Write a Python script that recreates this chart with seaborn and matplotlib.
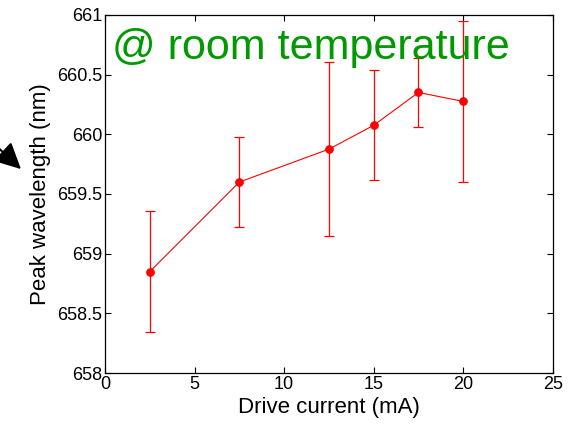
import matplotlib
matplotlib.use('Agg')
import matplotlib.pyplot as plt
import seaborn as sns
import pandas as pd
import numpy as np

# data
current_ma = [2.5, 7.5, 12.5, 15, 17.5, 20]
peak_nm = [658.85, 659.60, 659.875, 660.075, 660.35, 660.275]
err_low = [658.345, 659.225, 659.145, 659.615, 660.06, 659.60]
err_high = [659.355, 659.975, 660.605, 660.535, 660.64, 660.95]

sns.set_style("ticks")
plt.rcParams['font.family'] = ['Liberation Sans', 'DejaVu Sans']
plt.rcParams['text.color'] = 'black'
plt.rcParams['axes.labelcolor'] = 'black'
plt.rcParams['xtick.color'] = 'black'
plt.rcParams['ytick.color'] = 'black'

df = pd.DataFrame({'current': current_ma, 'peak': peak_nm})
yerr = np.array([np.array(peak_nm) - np.array(err_low),
                 np.array(err_high) - np.array(peak_nm)])

fig = plt.figure(figsize=(5.77, 4.24), dpi=100)
ax = fig.add_axes([0.182, 0.120, 0.776, 0.845])

ax.errorbar(current_ma, peak_nm, yerr=yerr, fmt='none', ecolor='red',
            elinewidth=0.9, capsize=3.5, capthick=0.9, zorder=2)
sns.lineplot(data=df, x='current', y='peak', ax=ax, color='red', marker='o',
             markersize=5.5, markeredgecolor='red', linewidth=0.8, zorder=3)

ax.set_xlim(0, 25)
ax.set_ylim(658, 661)
ax.set_xticks(np.arange(0, 26, 5))
ax.set_yticks(np.arange(658, 661.01, 0.5))
ax.set_yticklabels(['658', '658.5', '659', '659.5', '660', '660.5', '661'])
ax.tick_params(direction='in', top=True, right=True, labelsize=13, length=4,
               width=0.8, pad=2, colors='black')
for s in ax.spines.values():
    s.set_linewidth(0.9)
    s.set_color('black')

ax.set_xlabel('Drive current (mA)', fontsize=16, labelpad=3, color='black')
ax.set_ylabel('Peak wavelength (nm)', fontsize=16, labelpad=4, color='black')

ax.text(0.015, 0.962, '@ room temperature', transform=ax.transAxes,
        fontsize=31, color='#009900', ha='left', va='top')

# black arrowhead at left edge pointing at the y label
ax.annotate('', xy=(23, 424 - 171), xycoords='figure pixels',
            xytext=(-10, 424 - 140), textcoords='figure pixels',
            arrowprops=dict(arrowstyle='-|>,head_length=1.6,head_width=0.8',
                            color='black', lw=1.5),
            annotation_clip=False)

fig.savefig('out.png', dpi=100)
